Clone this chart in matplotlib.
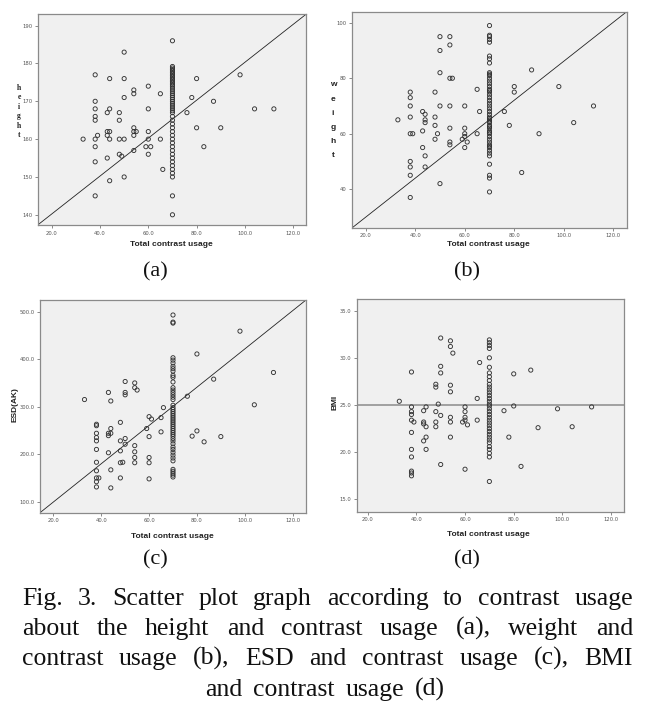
import matplotlib
matplotlib.use('Agg')
import matplotlib.pyplot as plt
from matplotlib.ticker import FormatStrFormatter

# ---------------- data ----------------
# (a) height vs total contrast usage
height_x = [50, 38, 44, 50, 60, 54, 54, 65, 50, 38, 80, 98, 78, 87, 104, 112, 76, 38, 44, 43,
            48, 60, 38, 38, 48, 54, 54, 55, 43, 44, 39, 43, 54, 60, 80, 90, 33, 38, 44, 48,
            50, 60, 65, 38, 59, 61, 83, 54, 43, 48, 49, 60, 38, 66, 50, 44, 38]
height_y = [183, 177, 176, 176, 174, 173, 172, 172, 171, 170, 176, 177, 171, 170, 168, 168, 167, 168, 168, 167,
            167, 168, 166, 165, 165, 163, 162, 162, 162, 162, 161, 161, 161, 162, 163, 163, 160, 160, 160, 160,
            160, 160, 160, 158, 158, 158, 158, 157, 155, 156, 155.5, 156, 154, 152, 150, 149, 145]
height_col70 = [186, 179.2, 178.8, 178.4, 178, 177.6, 177.2, 176.8, 176.4, 176, 175.6, 175.2, 174.8, 174.4,
                174, 173.5, 173, 172.5, 172, 171.5, 171, 170.5, 170, 169.5, 169, 168.5, 168, 167.5, 167,
                166, 165, 164, 163, 162, 161, 160, 159, 158, 157, 156, 155, 154, 153, 152, 151, 150, 145, 140]

# (b) weight vs total contrast usage
weight_x = [33, 38, 38, 38, 38, 38, 39, 38, 38, 38, 38, 43, 44, 44, 44, 43, 43, 44, 44, 48, 48, 48, 49, 48,
            50, 50, 50, 50, 50, 54, 54, 54, 55, 54, 54, 54, 54, 60, 60, 60, 60, 59, 61, 60, 65, 66, 65, 76,
            78, 80, 80, 87, 90, 83, 98, 104, 112]
weight_y = [65, 75, 73, 70, 66, 60, 60, 50, 48, 45, 37, 68, 67, 65, 64, 61, 55, 52, 48, 75, 66, 63, 60, 58,
            95, 90, 82, 70, 42, 95, 92, 80, 80, 70, 62, 57, 56, 70, 62, 60, 59, 58, 57, 55, 76, 68, 60, 68,
            63, 77, 75, 83, 60, 46, 77, 64, 70]
weight_col70 = [99, 95.5, 95, 94, 93, 88, 87, 85.5, 82, 81.5, 81, 80, 79, 78, 77, 76, 75.5, 75, 74, 73, 72,
                71, 70, 69, 68, 67, 66, 65.5, 65, 64.5, 64, 63, 62.5, 62, 61, 60.5, 60, 59, 58, 57, 56,
                55.5, 55, 54, 53, 52, 49, 45, 44, 39]

# (c) ESD(AK) vs total contrast usage
esd_x = [33, 38, 38, 38, 38, 38, 38, 38, 38, 38, 39, 38, 38, 43, 44, 44, 43, 44, 43, 43, 44, 44, 48, 48,
         48, 48, 49, 48, 50, 50, 50, 50, 50, 54, 54, 55, 54, 54, 54, 54, 60, 61, 59, 60, 60, 60, 60, 65,
         65, 66, 76, 78, 80, 80, 83, 87, 90, 98, 104, 112]
esd_y = [315, 263, 260, 244, 235, 228, 210, 183, 165, 150, 150, 142, 131, 330, 312, 254, 244, 244, 239, 203,
         167, 129, 267, 228, 207, 182, 183, 150, 353, 330, 325, 233, 221, 350, 340, 335, 218, 205, 193, 182,
         279, 274, 254, 237, 193, 182, 148, 277, 247, 298, 322, 238, 411, 249, 226, 358, 237, 459, 304, 372]
esd_col70 = [493, 478, 476, 403, 398, 392, 385, 380, 375, 366, 362, 352, 340, 335, 330, 325, 320, 315, 303,
             298, 294, 290, 286, 282, 278, 274, 270, 266, 262, 258, 254, 250, 246, 242, 238, 233, 228, 222,
             215, 210, 204, 198, 192, 186, 168, 164, 160, 156, 152]

# (d) BMI vs total contrast usage
bmi_x = [33, 38, 38, 38, 38, 38, 39, 38, 38, 38, 38, 38, 38, 43, 44, 43, 43, 44, 44, 43, 44, 48, 48, 48,
         48, 48, 49, 50, 50, 50, 50, 50, 54, 54, 55, 54, 54, 54, 54, 54, 60, 60, 60, 60, 59, 61, 60, 65,
         65, 66, 76, 78, 80, 80, 87, 83, 90, 98, 104, 112]
bmi_y = [25.4, 28.5, 24.8, 24.3, 24.0, 23.4, 23.2, 22.1, 20.3, 19.5, 18.0, 17.8, 17.5, 24.4, 24.8, 23.2,
         23.0, 22.7, 21.6, 21.2, 20.3, 27.2, 26.9, 24.3, 23.2, 22.7, 25.1, 32.1, 29.1, 28.4, 23.9, 18.7,
         31.8, 31.2, 30.5, 27.1, 26.4, 23.7, 23.2, 21.6, 24.8, 24.3, 23.7, 23.4, 23.2, 22.9, 18.2, 25.7,
         23.4, 29.5, 24.4, 21.6, 28.3, 24.9, 28.7, 18.5, 22.6, 24.6, 22.7, 24.8]
bmi_col70 = [31.9, 31.6, 31.3, 31.0, 30.0, 29.0, 28.4, 28.0, 27.6, 27.2, 26.9, 26.6, 26.3, 26.0, 25.7, 25.4,
             25.1, 24.9, 24.6, 24.3, 24.0, 23.7, 23.4, 23.1, 22.8, 22.5, 22.2, 21.9, 21.6, 21.3, 21.0,
             20.6, 20.3, 19.9, 19.5, 16.9]
col_x = 70
bmi_ref = 25.0

x_ticks = [20, 40, 60, 80, 100, 120]
height_ticks = [140, 150, 160, 170, 180, 190]
weight_ticks = [40, 60, 80, 100]
esd_ticks = [100, 200, 300, 400, 500]
bmi_ticks = [15, 20, 25, 30, 35]

xlabel = "Total contrast usage"
panel_labels = ["(a)", "(b)", "(c)", "(d)"]
caption_lines = [
    "Fig. 3. Scatter plot graph according to contrast usage",
    "about the height and contrast usage (a), weight and",
    "contrast usage (b), ESD and contrast usage (c), BMI",
    "and contrast usage (d)",
]

# ---------------- figure ----------------
W, H = 647, 704
fig = plt.figure(figsize=(W / 100, H / 100), dpi=100)


def rect(l, t, r, b):
    return [l / W, 1 - b / H, (r - l) / W, (b - t) / H]


def fx(x):
    return x / W


def fy(y):
    return 1 - y / H


BG = '#f0f0f0'
EDGE = '#8a8a8a'


def panel(r, xs, ys, col, xlim, ylim, yticks, yfmt, diag=True, href=None):
    ax = fig.add_axes(rect(*r))
    ax.set_facecolor(BG)
    for s in ax.spines.values():
        s.set_color(EDGE)
        s.set_linewidth(0.9)
    ax.scatter(xs, ys, s=9, facecolors='none', edgecolors='#333333', linewidths=0.65, zorder=3)
    ax.scatter([col_x] * len(col), col, s=9, facecolors='none', edgecolors='#333333',
               linewidths=0.65, zorder=3)
    if diag:
        ax.plot([0, 1], [0, 1], transform=ax.transAxes, color='#222222', lw=0.6, zorder=2)
    if href is not None:
        ax.axhline(href, color='#9a9a9a', lw=1.3, zorder=2)
    ax.set_xlim(*xlim)
    ax.set_ylim(*ylim)
    ax.set_xticks(x_ticks)
    ax.set_yticks(yticks)
    ax.xaxis.set_major_formatter(FormatStrFormatter('%.1f'))
    ax.yaxis.set_major_formatter(FormatStrFormatter(yfmt))
    ax.tick_params(direction='out', length=2.5, width=0.6, color='#777777',
                   labelsize=3.8, labelcolor='#555555', pad=1.5)
    return ax


axa = panel((37.7, 14.3, 306, 225), height_x, height_y, height_col70,
            (14.2, 125.3), (137.3, 193), height_ticks, '%d')
axb = panel((352.3, 11.7, 626.7, 227.7), weight_x, weight_y, weight_col70,
            (14.6, 125.4), (26.1, 104.0), weight_ticks, '%d')
axc = panel((40, 300, 306, 512.7), esd_x, esd_y, esd_col70,
            (14.4, 125.6), (76.8, 524.6), esd_ticks, '%.1f')
axd = panel((356.7, 299.3, 624, 511.7), bmi_x, bmi_y, bmi_col70,
            (15.5, 125.3), (13.7, 36.2), bmi_ticks, '%.1f', diag=False, href=bmi_ref)

# x labels
lab_kw = dict(fontsize=6, fontweight='bold', color='#222222', ha='center', va='center',
              family='Liberation Sans')
fig.text(fx(171), fy(244), xlabel, **lab_kw)
fig.text(fx(488), fy(244), xlabel, **lab_kw)
fig.text(fx(172), fy(536), xlabel, **lab_kw)
fig.text(fx(488), fy(534), xlabel, **lab_kw)

# y labels
for i, ch in enumerate("height"):
    fig.text(fx(19), fy(88 + i * 9.4), ch, fontsize=5.5, fontweight='bold', color='#222222',
             ha='center', va='center', family='Liberation Serif')
for i, ch in enumerate("weight"):
    fig.text(fx(333), fy(85 + i * 14.1), ch, fontsize=6, fontweight='bold', color='#222222',
             ha='center', va='center', family='Liberation Sans')
fig.text(fx(15), fy(405), "ESD(AK)", rotation=90, **lab_kw)
fig.text(fx(335), fy(402), "BMI", rotation=90, **lab_kw)

# panel labels
ser = dict(fontsize=16, family='Liberation Serif', color='#111111', ha='center', va='baseline')
fig.text(fx(155), fy(276), panel_labels[0], **ser)
fig.text(fx(467), fy(276), panel_labels[1], **ser)
fig.text(fx(155), fy(564), panel_labels[2], **ser)
fig.text(fx(467), fy(564), panel_labels[3], **ser)

# caption (justified)
fig.canvas.draw()
rend = fig.canvas.get_renderer()
cap_base = [605, 635, 665, 696]
L, R = 22, 633
for li, (line, yy) in enumerate(zip(caption_lines, cap_base)):
    words = line.split(' ')
    tx = [fig.text(0, fy(yy), w, fontsize=18.5, family='Liberation Serif', color='#111111',
                   ha='left', va='baseline') for w in words]
    wd = [t.get_window_extent(rend).width for t in tx]
    if li < len(caption_lines) - 1:
        gap = (R - L - sum(wd)) / (len(words) - 1)
        x = L
    else:
        gap = 11.0
        total = sum(wd) + gap * (len(words) - 1)
        x = 325 - total / 2
    for t, w in zip(tx, wd):
        t.set_x(fx(x))
        x += w + gap

fig.savefig('out.png', dpi=100, facecolor='white')
